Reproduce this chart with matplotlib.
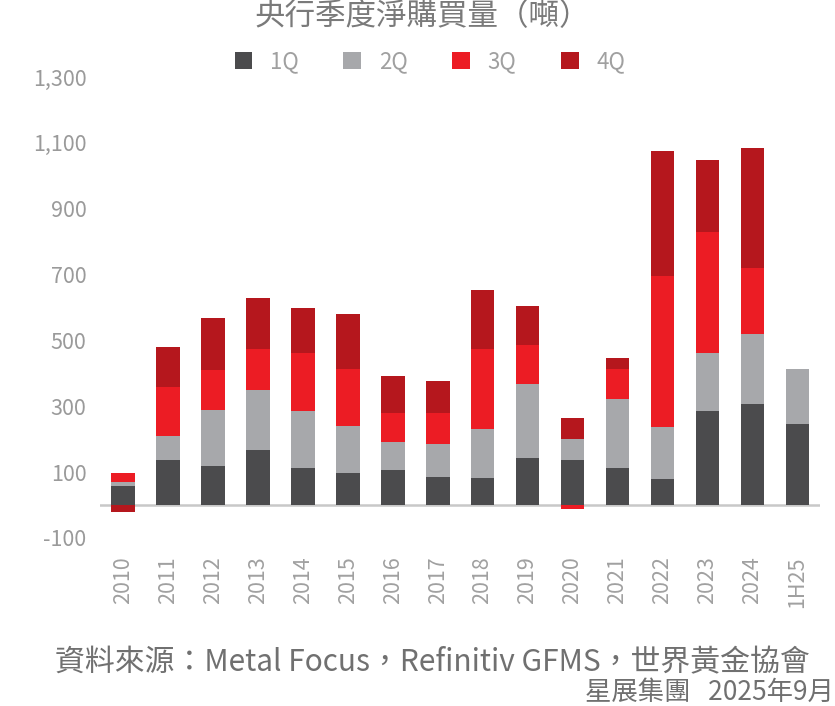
import numpy as np
import matplotlib.pyplot as plt

plt.rcParams['font.family'] = ['Noto Sans CJK TC', 'DejaVu Sans']

# 年份與各季淨購買量（噸）
anos = ['2010', '2011', '2012', '2013', '2014', '2015', '2016', '2017',
        '2018', '2019', '2020', '2021', '2022', '2023', '2024', '1H25']
q1 = [58, 138, 118, 167, 113, 98, 106, 86, 82, 142, 136, 111, 79, 285, 306, 245]
q2 = [12, 71, 170, 181, 172, 142, 86, 99, 150, 227, 64, 210, 157, 178, 214, 167]
q3 = [26, 149, 121, 126, 178, 173, 88, 95, 241, 116, -11, 91, 459, 365, 199, 0]
q4 = [-20, 122, 159, 154, 134, 166, 112, 96, 179, 118, 65, 36, 381, 219, 365, 0]
series = [q1, q2, q3, q4]
nomes = ['1Q', '2Q', '3Q', '4Q']
cores = ['#4b4b4d', '#a7a8ab', '#ec1c24', '#b5171d']

fig = plt.figure(figsize=(8.35, 7.06), dpi=100)
ax = fig.add_axes([0.12, 0.238, 0.862, 0.653])

x = np.arange(len(anos))
pos_base = np.zeros(len(anos))
neg_base = np.zeros(len(anos))
for vals, nome, cor in zip(series, nomes, cores):
    v = np.array(vals, dtype=float)
    base = np.where(v >= 0, pos_base, neg_base)
    ax.bar(x, v, bottom=base, width=0.53, color=cor, label=nome)
    pos_base += np.where(v >= 0, v, 0)
    neg_base += np.where(v < 0, v, 0)

ax.set_ylim(-100, 1300)
ax.set_xlim(-0.5, len(anos) - 0.5)
ax.set_yticks(range(-100, 1301, 200))
ax.set_yticklabels([f'{t:,}' for t in range(-100, 1301, 200)], fontweight='light')
ax.set_xticks(x)
ax.set_xticklabels(anos, rotation=90, fontweight='light')
ax.tick_params(axis='y', length=0, labelsize=15.5, labelcolor='#9a9a9a', pad=10)
ax.tick_params(axis='x', length=0, labelsize=15.5, labelcolor='#a0a0a0', pad=13)
for s in ax.spines.values():
    s.set_visible(False)
ax.axhline(0, color='#c8c8c8', lw=1.8, zorder=0)

fig.text(0.505, 0.977, '央行季度淨購買量（噸）', ha='center', va='center',
         fontsize=22, color='#7a7a7a')
fig.legend(loc='center', bbox_to_anchor=(0.515, 0.913), ncol=4, frameon=False,
           labelcolor='#a0a0a0', handlelength=0.8, handleheight=0.8,
           columnspacing=2.0, handletextpad=0.8, prop={'weight': 'light', 'size': 16})

fig.text(0.066, 0.061, '資料來源：Metal Focus，Refinitiv GFMS，世界黃金協會',
         ha='left', va='center', fontsize=21.5, color='#707070')
fig.text(0.999, 0.0, '星展集團   2025年9月', ha='right', va='bottom',
         fontsize=19, color='#707070')

fig.savefig('out.png', dpi=100)
